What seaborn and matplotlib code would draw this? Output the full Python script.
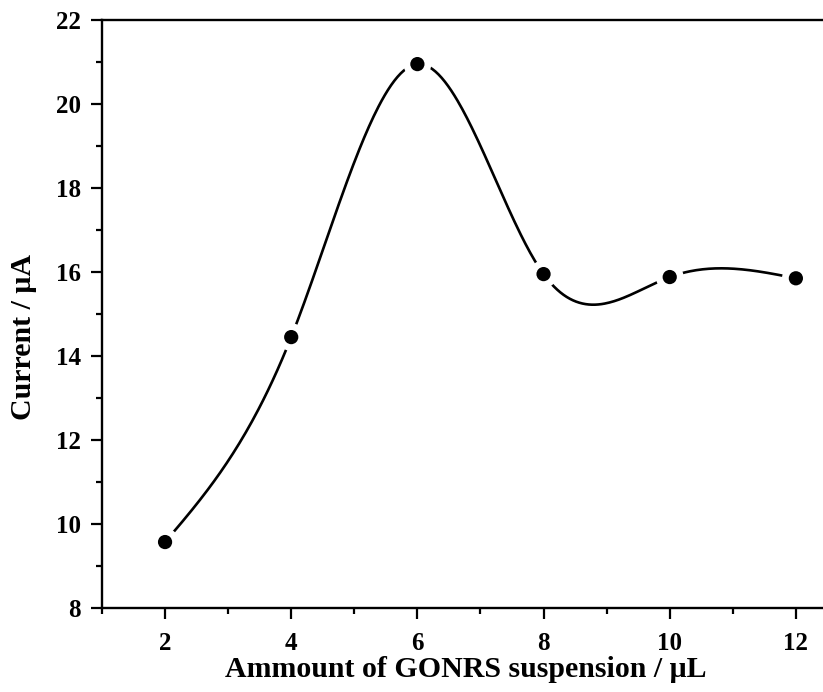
import numpy as np
import pandas as pd
import seaborn as sns
import matplotlib.pyplot as plt
from matplotlib.ticker import MultipleLocator

# values
amount_ul = [2, 4, 6, 8, 10, 12]
current_ua = [9.57, 14.45, 20.95, 15.95, 15.88, 15.85]
x_label = 'Ammount of GONRS suspension / \u03bcL'
y_label = 'Current / \u03bcA'


def natural_spline(x, y, n=400):
    # natural cubic spline through the measured points (smooth connecting line)
    x = np.asarray(x, float)
    y = np.asarray(y, float)
    k = len(x)
    h = np.diff(x)
    A = np.zeros((k, k))
    b = np.zeros(k)
    A[0, 0] = A[-1, -1] = 1
    for i in range(1, k - 1):
        A[i, i - 1] = h[i - 1]
        A[i, i] = 2 * (h[i - 1] + h[i])
        A[i, i + 1] = h[i]
        b[i] = 3 * ((y[i + 1] - y[i]) / h[i] - (y[i] - y[i - 1]) / h[i - 1])
    c = np.linalg.solve(A, b)
    xs = np.linspace(x[0], x[-1], n)
    ys = np.empty_like(xs)
    for j, xv in enumerate(xs):
        i = min(np.searchsorted(x, xv, side='right') - 1, k - 2)
        d = xv - x[i]
        bi = (y[i + 1] - y[i]) / h[i] - h[i] * (2 * c[i] + c[i + 1]) / 3
        di = (c[i + 1] - c[i]) / (3 * h[i])
        ys[j] = y[i] + bi * d + c[i] * d ** 2 + di * d ** 3
    return xs, ys


df = pd.DataFrame({'amount': amount_ul, 'current': current_ua})
xs, ys = natural_spline(amount_ul, current_ua)
curve = pd.DataFrame({'amount': xs, 'current': ys})

sns.set_style('ticks')
plt.rcParams['font.family'] = ['Liberation Serif', 'DejaVu Serif']
plt.rcParams['font.weight'] = 'bold'
plt.rcParams['text.color'] = 'black'
plt.rcParams['axes.labelcolor'] = 'black'
plt.rcParams['xtick.color'] = 'black'
plt.rcParams['ytick.color'] = 'black'

fig = plt.figure(figsize=(8.23, 6.92), dpi=100)
ax = fig.add_axes([0.1239, 0.1214, 0.9198, 0.8497])

sns.lineplot(data=curve, x='amount', y='current', color='black', lw=1.9,
             sort=False, ax=ax)
# white halo gives the gap between line and symbols
sns.scatterplot(data=df, x='amount', y='current', color='white', s=400,
                edgecolor='none', zorder=3, ax=ax)
sns.scatterplot(data=df, x='amount', y='current', color='black', s=105,
                edgecolor='none', zorder=4, ax=ax)

ax.set_xlim(1, 13)
ax.set_ylim(8, 22)
ax.xaxis.set_major_locator(MultipleLocator(2))
ax.xaxis.set_minor_locator(MultipleLocator(1))
ax.yaxis.set_major_locator(MultipleLocator(2))
ax.yaxis.set_minor_locator(MultipleLocator(1))
ax.tick_params(which='major', length=8, width=1.6, labelsize=18, direction='out',
               color='black', labelcolor='black')
ax.tick_params(axis='x', which='major', pad=9)
ax.tick_params(axis='y', which='major', pad=7)
ax.tick_params(which='minor', length=4.5, width=1.6, direction='out', color='black')
for lab in ax.get_xticklabels() + ax.get_yticklabels():
    lab.set_fontweight('bold')
for sp in ax.spines.values():
    sp.set_linewidth(1.7)
    sp.set_color('black')

ax.set_xlabel(x_label, fontsize=21.5, fontweight='bold', labelpad=1, color='black')
ax.set_ylabel(y_label, fontsize=21.5, fontweight='bold', labelpad=14, color='black')
ax.xaxis.label.set_x(0.481)
ax.yaxis.label.set_y(0.461)

fig.savefig('out.png', dpi=100)
